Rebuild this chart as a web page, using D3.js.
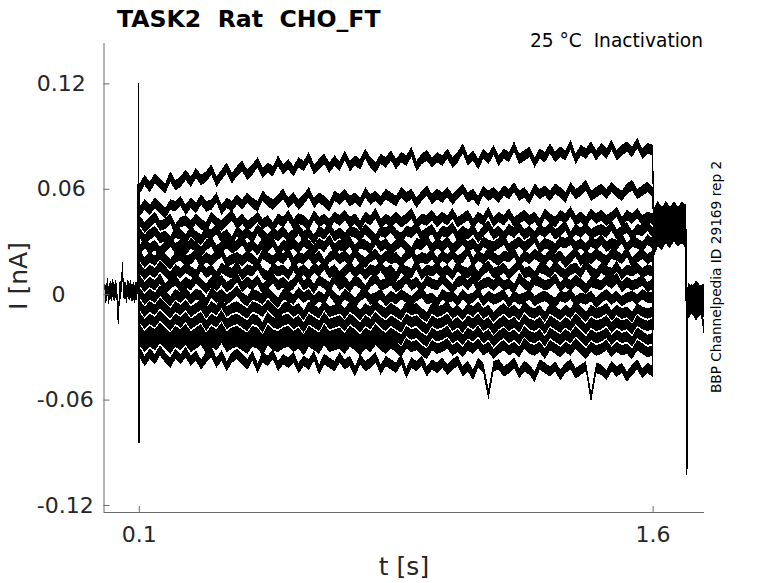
<!DOCTYPE html>
<html><head><meta charset="utf-8">
<script src="https://cdn.jsdelivr.net/npm/d3@7"></script>
<style>body{margin:0;background:#fff}svg{display:block;font-family:"DejaVu Sans",sans-serif}</style>
</head><body><svg id="c" width="778" height="583"></svg>
<script>
const title = "TASK2  Rat  CHO_FT";
const subtitle = "25 °C  Inactivation";
const sideNote = "BBP Channelpedia ID 29169 rep 2";
const xLabel = "t [s]";
const yLabel = "I [nA]";
const xTicks = [0.1, 1.6];
const xTickLabels = ["0.1", "1.6"];
const yTicks = [0.12, 0.06, 0, -0.06, -0.12];
const yTickLabels = ["0.12", "0.06", "0", "-0.06", "-0.12"];

// currents in pA, sampled evenly across each window [start, end] in s
const preWindow = [0, 0.096];
const preI = [6,-2,5,-1,3,1,4,0,3,1,-16,3,2,15,1,3,0,4,1,3,0,2,0,3,0];
const onsetT = [0.1, 0.1008];
const onsetI = [120, -85];
const stepWindow = [0.102, 1.6];
const stepI = [
 [60,65,61,66,63,60,67,62,64,68,64,69,65,67,71,64,68,72,66,70,73,68,71,75,69,72,70,76,71,74,70,75,73,78,71,74,77,72,76,73,79,73,76,74,80,75,72,77,75,79,74,78,76,81,73,77,79,75,78,76,80,75,78,83,76,79,74,80,77,82,76,80,78,84,77,79,81,75,80,78,83,78,81,79,85,77,82,80,84,79,83,80,85,79,82,84,81,86,80,83,82],
 [47,51,48,52,49,46,51,50,53,48,52,49,54,50,51,55,48,52,50,54,51,55,52,50,56,53,51,54,57,52,55,51,54,58,52,55,53,50,56,54,57,53,55,52,58,54,56,53,57,55,53,58,55,57,52,56,59,54,57,55,58,54,57,60,55,57,53,59,56,58,55,59,57,61,56,58,54,60,57,59,56,60,58,55,61,57,59,62,56,58,60,57,61,58,56,60,62,57,59,61,58],
 [42,38,41,44,39,40,43,37,41,42,39,43,40,38,44,41,39,42,45,40,43,39,41,44,40,42,38,43,41,45,40,43,42,39,45,41,43,40,44,42,45,41,43,39,44,42,46,40,43,41,44,41,43,46,40,43,42,45,41,44,42,46,41,43,45,40,44,42,47,41,44,42,46,41,43,45,42,44,40,46,43,41,45,43,47,42,44,41,46,43,45,42,44,47,41,45,43,46,42,44,43],
 [35,31,34,36,32,33,30,35,34,31,36,33,31,35,34,37,32,34,30,36,33,35,32,37,34,31,35,33,36,32,34,37,33,35,31,36,34,38,33,35,32,36,35,33,37,34,31,36,35,38,34,32,36,35,38,33,35,37,32,36,35,38,33,36,34,37,32,36,39,34,36,33,37,35,38,34,36,33,37,35,38,34,36,39,33,37,35,38,34,36,37,35,39,34,36,38,33,37,36,39,35],
 [25,29,26,28,24,27,30,26,28,25,29,27,24,28,30,25,27,29,26,28,31,26,28,25,29,27,30,24,28,27,29,26,30,28,25,29,27,31,26,28,27,30,25,29,28,26,31,27,29,25,28,30,27,24,29,28,31,26,29,27,30,26,28,31,27,29,25,30,28,27,29,31,26,28,30,27,29,32,26,29,28,26,30,29,31,27,29,26,30,28,31,27,29,28,32,26,30,29,27,31,29],
 [22,18,21,19,23,20,17,21,22,19,20,23,18,21,19,22,24,18,20,21,19,22,20,17,23,21,19,22,20,24,18,21,20,23,19,22,17,21,23,20,22,19,24,20,18,21,23,19,22,20,21,18,22,24,19,21,20,23,18,22,20,23,19,21,25,18,22,20,23,21,19,22,21,24,18,22,20,23,21,19,23,20,22,18,21,24,19,22,20,23,21,19,23,22,20,24,18,21,23,20,22],
 [15,11,14,12,16,13,10,14,12,15,13,11,16,12,14,10,15,13,12,16,11,14,13,17,12,10,15,13,14,11,16,12,14,11,15,13,17,12,14,10,13,16,12,15,11,14,13,16,12,14,10,15,13,12,17,11,14,13,15,12,14,11,16,13,12,15,10,14,16,12,13,15,11,14,17,12,13,10,15,14,12,16,13,11,14,15,12,17,13,11,15,13,12,16,11,14,13,15,12,14,13],
 [8,4,7,5,9,3,6,8,4,7,5,9,6,3,7,5,8,4,6,10,4,7,5,8,3,6,9,5,7,4,6,10,5,7,3,8,6,4,9,5,7,4,8,6,2,7,9,5,6,8,4,6,9,5,7,3,8,6,5,9,6,3,7,8,5,9,4,6,7,5,8,5,6,3,9,6,4,8,7,5,6,9,4,7,5,8,6,3,7,6,5,8,6,9,4,7,5,6,8,4,6],
 [1,-3,0,-2,2,-1,-4,0,-2,1,-3,0,-1,-5,1,-2,0,-3,-1,2,-2,-4,0,-1,-3,1,-2,-5,0,-1,-3,1,-2,0,-4,-1,-3,2,-2,-4,0,-2,-5,-1,1,-3,-2,0,-4,-1,-3,0,-2,-4,-1,1,-3,-2,-5,0,-2,-1,-4,0,-3,-2,1,-4,-1,-3,-2,0,-5,-1,-3,-2,0,-4,-2,-1,-3,-5,-1,-2,0,-4,-2,-3,-1,-5,-2,0,-3,-1,-4,-2,-1,-3,0,-2,-2],
 [-6,-10,-7,-9,-5,-8,-11,-7,-9,-6,-10,-8,-6,-11,-7,-9,-5,-10,-8,-7,-9,-11,-7,-8,-10,-6,-9,-12,-8,-7,-10,-8,-12,-7,-9,-11,-6,-10,-9,-8,-11,-7,-9,-12,-8,-10,-6,-9,-11,-8,-10,-12,-7,-9,-8,-11,-13,-8,-10,-9,-7,-11,-9,-12,-8,-10,-7,-11,-9,-13,-10,-8,-11,-9,-12,-7,-10,-11,-9,-13,-8,-10,-12,-9,-11,-7,-10,-13,-9,-11,-10,-8,-12,-9,-11,-10,-13,-8,-10,-11,-10],
 [-13,-17,-14,-16,-12,-15,-18,-14,-16,-13,-17,-15,-13,-18,-14,-16,-12,-17,-15,-14,-16,-18,-14,-15,-19,-13,-16,-17,-15,-14,-17,-15,-19,-14,-16,-18,-13,-17,-16,-15,-18,-14,-16,-19,-15,-17,-13,-16,-18,-15,-17,-19,-14,-16,-15,-18,-20,-15,-17,-16,-14,-18,-16,-19,-15,-17,-14,-18,-16,-20,-17,-15,-18,-16,-19,-14,-17,-18,-16,-20,-15,-17,-19,-16,-18,-14,-17,-20,-16,-18,-17,-15,-19,-16,-18,-17,-20,-15,-17,-18,-17],
 [-20,-24,-21,-23,-19,-22,-25,-21,-23,-20,-24,-22,-20,-25,-21,-23,-19,-24,-22,-21,-23,-25,-21,-22,-26,-20,-23,-24,-22,-21,-24,-22,-26,-21,-23,-25,-20,-24,-23,-22,-25,-21,-23,-26,-22,-24,-20,-23,-25,-22,-24,-26,-21,-23,-22,-25,-27,-22,-24,-23,-21,-25,-23,-26,-22,-24,-21,-25,-23,-27,-24,-22,-25,-23,-26,-21,-24,-25,-23,-27,-22,-24,-26,-23,-25,-21,-24,-27,-23,-25,-24,-22,-26,-23,-25,-24,-27,-22,-24,-26,-25],
 [-26,-30,-27,-29,-25,-28,-31,-27,-29,-26,-30,-28,-26,-31,-27,-29,-25,-30,-28,-27,-29,-31,-27,-28,-32,-26,-29,-30,-28,-27,-30,-28,-32,-27,-29,-31,-26,-30,-29,-28,-31,-27,-29,-32,-28,-30,-26,-29,-31,-28,-30,-33,-28,-30,-29,-32,-34,-29,-31,-30,-28,-32,-30,-33,-29,-31,-28,-32,-30,-34,-31,-29,-32,-30,-33,-28,-31,-32,-30,-34,-29,-31,-33,-30,-32,-28,-31,-34,-30,-32,-31,-29,-33,-30,-32,-31,-34,-29,-31,-33,-32],
 [-33,-38,-34,-37,-32,-36,-39,-34,-37,-33,-38,-35,-40,-36,-33,-39,-35,-41,-36,-34,-37,-40,-35,-42,-36,-38,-34,-41,-37,-39,-36,-42,-38,-40,-35,-43,-37,-39,-41,-36,-40,-38,-44,-37,-41,-39,-36,-43,-38,-40,-42,-37,-45,-39,-41,-38,-44,-40,-42,-39,-43,-40,-38,-44,-41,-46,-39,-42,-57,-41,-40,-44,-42,-39,-45,-41,-43,-47,-40,-42,-44,-41,-46,-42,-40,-45,-43,-41,-59,-42,-43,-46,-41,-44,-42,-47,-43,-40,-45,-42,-44]
];
const tailWindow = [1.603, 1.697];
const tailI = [
 [42,46,43,47,44,45,42,46,44],[38,42,39,43,40,44,41,43,40],[35,39,36,40,37,41,38,40,37],
 [30,35,33,37,34,38,35,37,34],[26,32,30,34,31,35,32,34,31],[40,44,41,45,42,46,43,45,42],
 [44,48,45,47,44,48,45,47,46],[33,37,34,38,35,39,36,38,35],[28,34,31,35,32,36,33,35,32],
 [36,40,37,41,38,42,39,41,38],[39,43,40,44,41,45,42,44,41],[31,36,33,37,34,38,35,37,34],
 [43,47,44,48,45,47,44,48,45],[37,41,38,42,39,43,40,42,39]
];
const offsetT = [1.7];
const offsetI = [-103];
const endWindow = [1.703, 1.75];
const endI = [
 [0,-3,1,-2,-1],[-5,-2,-6,-3,-4],[2,-1,3,0,1],[-8,-5,-9,-6,-7],[-3,0,-4,-1,-2],
 [-10,-7,-11,-8,-9],[3,0,4,1,2],[-6,-3,-7,-4,-20],[-1,2,-2,1,0],[-9,-6,-10,-7,-8],
 [-4,-1,-5,-2,-3],[1,-2,2,-1,0],[-7,-4,-8,-5,-6],[-2,1,-3,0,-1]
];
// half-width of the fast recording noise around each sample, pA
const preNoise = 5, stepNoise = 3, tailNoise = 5, endNoise = 4;

const svg = d3.select("#c");
const x = d3.scaleLinear().domain([-0.003, 1.75]).range([103.5, 704]);
const y = d3.scaleLinear().domain([-0.124, 0.143]).range([512, 43]);
const pA = v => v / 1000;

function sampled(win, vals) {
  const n = vals.length;
  return vals.map((v, i) => [win[0] + i * (win[1] - win[0]) / (n - 1), v]);
}
const segs = stepI.map((s, k) => ({
  pre: sampled(preWindow, preI),
  step: sampled(stepWindow, s),
  tail: sampled(tailWindow, tailI[k]),
  end: sampled(endWindow, endI[k])
}));
const traces = segs.map(g => [].concat(
  g.pre, onsetT.map((t, i) => [t, onsetI[i]]), g.step, g.tail,
  offsetT.map((t, i) => [t, offsetI[i]]), g.end));

const band = w => d3.area().x(d => x(d[0])).y0(d => y(pA(d[1] - w))).y1(d => y(pA(d[1] + w)));
const plot = svg.append("g");
[["pre", preNoise], ["step", stepNoise], ["tail", tailNoise], ["end", endNoise]].forEach(([key, w]) => {
  plot.append("g").selectAll("path").data(segs).join("path")
    .attr("d", g => band(w)(g[key])).attr("fill", "#000").attr("shape-rendering", "crispEdges");
});
const line = d3.line().x(d => x(d[0])).y(d => y(pA(d[1])));
plot.append("g").selectAll("path").data(traces).join("path")
  .attr("d", line).attr("fill", "none").attr("stroke", "#000")
  .attr("stroke-width", 1.2).attr("shape-rendering", "crispEdges");

const axisColor = "#6a6a6a";
const gx = svg.append("g").attr("transform", "translate(0,512)")
  .call(d3.axisBottom(x).tickValues(xTicks).tickSize(-6).tickSizeOuter(0)
    .tickFormat((d, i) => xTickLabels[i]).tickPadding(14));
const gy = svg.append("g").attr("transform", "translate(103.5,0)")
  .call(d3.axisLeft(y).tickValues(yTicks).tickSize(-6).tickSizeOuter(0)
    .tickFormat((d, i) => yTickLabels[i]));
[gx, gy].forEach(g => {
  g.select(".domain").attr("stroke", axisColor);
  g.selectAll(".tick line").attr("stroke", axisColor);
  g.selectAll("text").attr("fill", "#262626").style("font-size", "22px").style("font-family", "DejaVu Sans");
});
gy.selectAll(".tick text")
  .attr("text-anchor", d => d === 0 ? "middle" : "start")
  .attr("x", d => d === 0 ? 58.5 - 103.5 : 36.7 - 103.5);
gx.select(".domain").attr("d", "M103.5,0.5H704");
gy.select(".domain").attr("d", "M0.5,512V43");

svg.append("text").attr("x", 117).attr("y", 27).text(title)
  .style("font-weight", "bold").style("font-size", "23.6px").style("white-space", "pre").attr("fill", "#000");
svg.append("text").attr("x", 703).attr("y", 47).attr("text-anchor", "end").text(subtitle)
  .style("font-size", "18.6px").style("white-space", "pre").attr("fill", "#000");
svg.append("text").attr("transform", "translate(721,277) rotate(-90)").attr("text-anchor", "middle")
  .text(sideNote).style("font-size", "13.7px").attr("fill", "#000");
svg.append("text").attr("transform", "translate(27,276) rotate(-90)").attr("text-anchor", "middle")
  .text(yLabel).style("font-size", "25px").attr("fill", "#262626");
svg.append("text").attr("x", 404).attr("y", 575).attr("text-anchor", "middle")
  .text(xLabel).style("font-size", "25px").attr("fill", "#262626");
</script></body></html>
